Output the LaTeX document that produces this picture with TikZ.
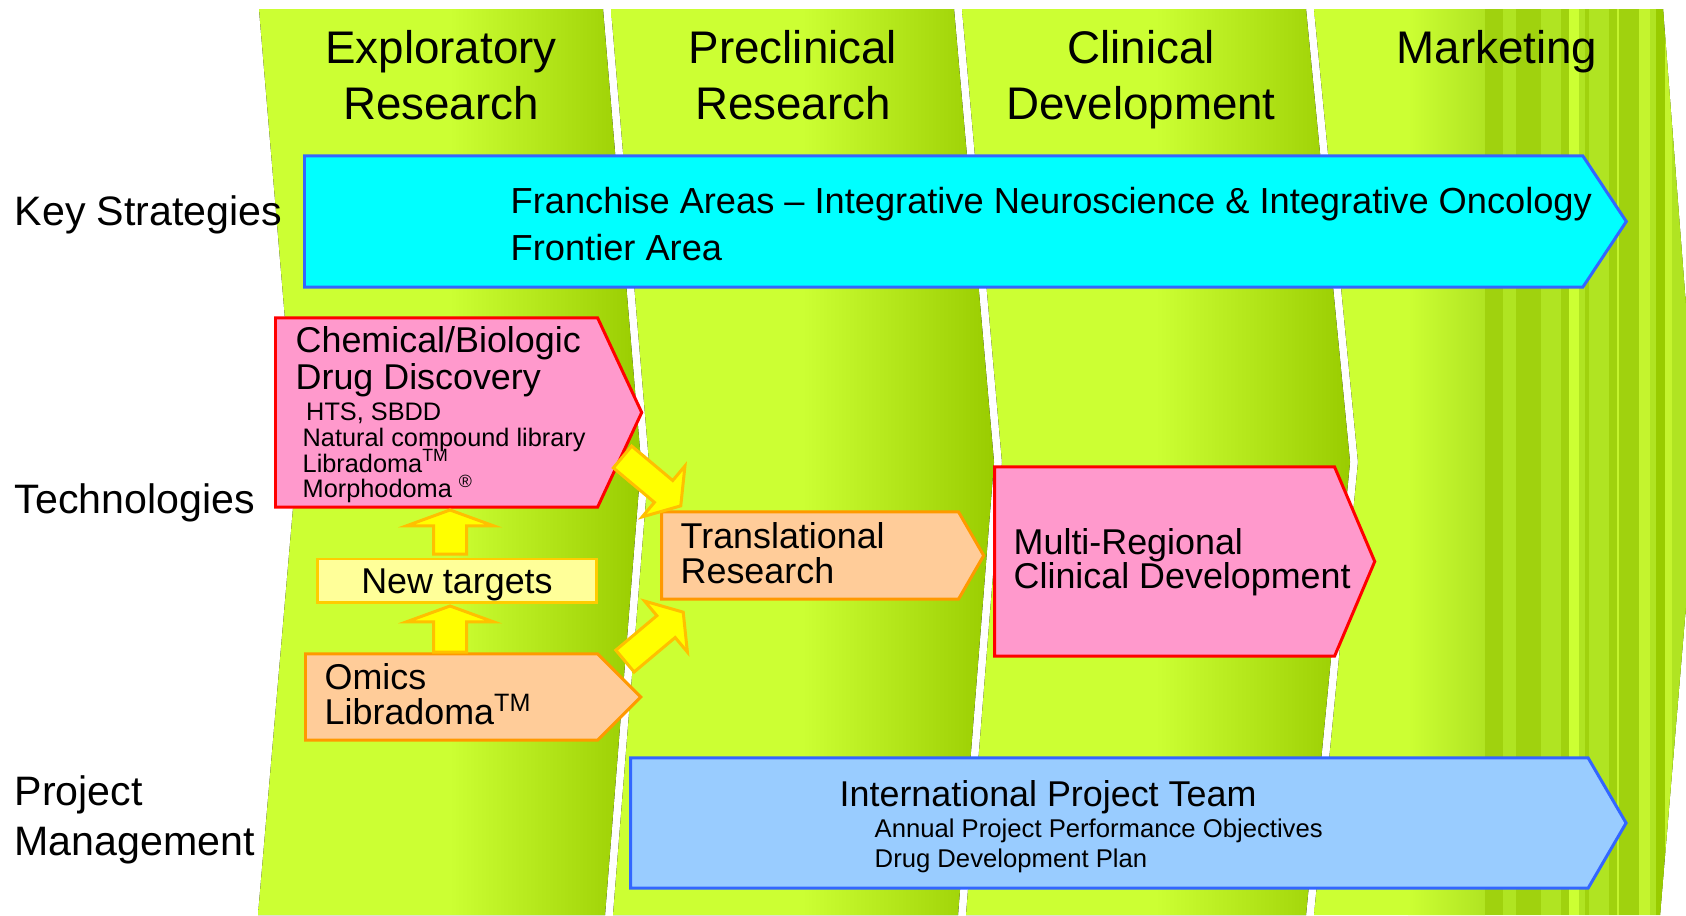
\documentclass[tikz,border=0pt]{standalone}
\usepackage{fontspec}
\setmainfont{Liberation Sans}
\usepackage{tikz}
\usetikzlibrary{shapes,arrows,positioning,calc,shapes.symbols,shapes.arrows}

\definecolor{bandlite}{RGB}{204,255,51}
\definecolor{banddark}{RGB}{153,204,0}
\definecolor{stripedark}{RGB}{160,210,14}
\definecolor{stripemid}{RGB}{176,228,34}
\definecolor{stripelite}{RGB}{196,244,46}
\definecolor{stratfill}{RGB}{0,255,255}
\definecolor{stratline}{RGB}{51,102,255}
\definecolor{techpink}{RGB}{255,153,204}
\definecolor{techred}{RGB}{255,0,0}
\definecolor{techpeach}{RGB}{255,204,153}
\definecolor{techorange}{RGB}{255,153,0}
\definecolor{targetfill}{RGB}{255,255,153}
\definecolor{targetline}{RGB}{255,204,0}
\definecolor{flowfill}{RGB}{255,255,0}
\definecolor{flowline}{RGB}{255,192,0}
\definecolor{teamfill}{RGB}{153,204,255}

\pgfdeclarehorizontalshading{bandshade}{100bp}{color(0bp)=(bandlite); color(50bp)=(bandlite); color(75bp)=(banddark); color(100bp)=(banddark)}

\begin{document}
\begin{tikzpicture}[x=0.01cm, y=-0.01cm,
    band/.style={shading=bandshade},
    phasetitle/.style={font=\fontsize{13}{15.9}\selectfont, align=center, anchor=north, inner sep=0pt},
    rowlabel/.style={font=\fontsize{11.7}{14.2}\selectfont, align=left, anchor=north west, inner sep=0pt},
    tagbox/.style={signal, signal to=east, signal from=nowhere, line width=0.85pt, inner sep=0pt, anchor=west},
    boxtext/.style={font=\fontsize{10.2}{10}\selectfont, align=left, anchor=north west, inner sep=0pt},
    smalltext/.style={font=\fontsize{7.2}{7.3}\selectfont, align=left, anchor=north west, inner sep=0pt},
    flowarrow/.style={single arrow, fill=flowfill, draw=flowline, line width=0.85pt, inner xsep=0pt, anchor=tail},
  ]
    \useasboundingbox (0,0) rectangle (1686,915);

    % Phase bands
    \fill[band] (259,9) -- (603,9) -- (641,462) -- (605,915) -- (258,915) -- (297,462) -- cycle;
    \fill[band] (611,9) -- (954,9) -- (994,462) -- (958,915) -- (613,915) -- (649,462) -- cycle;
    \fill[band] (962,9) -- (1306,9) -- (1350,462) -- (1306,915) -- (966,915) -- (1002,462) -- cycle;
    \begin{scope}
        \clip (1314,9) -- (1663,9) -- (1698,462) -- (1660,915) -- (1314,915) -- (1358,462) -- cycle;
        \fill[band] (1314,9) rectangle (1698,915);
        \fill[left color=bandlite, right color=stripemid] (1408,9) rectangle (1485,915);
        \foreach \a/\b/\c in {1485/1503/stripedark, 1503/1516/stripemid, 1516/1541/stripedark,
                1541/1561/stripemid, 1561/1569/stripedark, 1569/1579/bandlite, 1579/1585/stripemid,
                1585/1589/stripedark, 1589/1609/stripemid, 1609/1617/stripedark, 1617/1619/stripelite,
                1619/1639/stripedark, 1639/1650/stripelite, 1650/1656/stripemid, 1656/1665/banddark,
                1665/1672/stripelite, 1672/1700/stripemid}
            \fill[\c] (\a,9) rectangle (\b,915);
    \end{scope}

    % Phase titles
    \node[phasetitle] (pexp) at (441,30) {Exploratory\\Research};
    \node[phasetitle] (ppre) at (793,30) {Preclinical\\Research};
    \node[phasetitle] (pcli) at (1141,30) {Clinical\\Development};
    \node[phasetitle] (pmkt) at (1497,30) {Marketing};

    % Row labels
    \node[rowlabel] (rstrat) at (14,195) {Key Strategies};
    \node[rowlabel] (rtech) at (14,483) {Technologies};
    \node[rowlabel] (rproj) at (14,775) {Project\\Management};

    % Key strategies
    \node[tagbox, fill=stratfill, draw=stratline, minimum width=13.21cm, minimum height=1.31cm,
        signal pointer angle=113] (strat) at (303,221.5) {};
    \node[boxtext, font=\fontsize{10.3}{13.3}\selectfont] (strattxt) at (510,187)
        {Franchise Areas – Integrative Neuroscience \& Integrative Oncology\\Frontier Area};

    % Technologies
    \node[tagbox, fill=techpink, draw=techred, minimum width=3.66cm, minimum height=1.89cm,
        signal pointer angle=130] (chem) at (274,412.5) {};
    \node[boxtext, font=\fontsize{10.2}{9.4}\selectfont] (chemtxt) at (295,326) {Chemical/Biologic\\Drug Discovery};
    \node[smalltext] (chemlist) at (302,402.5)
        {\hspace*{1pt}HTS, SBDD\\Natural compound library\\Libradoma\smash{\textsuperscript{TM}}\\Morphodoma \smash{\textsuperscript{®}}};

    \node[draw=targetline, fill=targetfill, line width=0.85pt, minimum width=2.78cm, minimum height=0.43cm,
        font=\fontsize{10.2}{10}\selectfont, text height=7.3pt, text depth=0pt, inner sep=0pt] (targets) at (457,580.5) {New targets};

    \node[tagbox, fill=techpeach, draw=techorange, minimum width=3.35cm, minimum height=0.86cm,
        signal pointer angle=90] (omics) at (304,697) {};
    \node[boxtext] (omicstxt) at (324,662.5) {Omics\\Libradoma\smash{\textsuperscript{TM}}};

    \node[tagbox, fill=techpeach, draw=techorange, minimum width=3.22cm, minimum height=0.87cm,
        signal pointer angle=120] (trans) at (660,555.5) {};
    \node[boxtext] (transtxt) at (680,522) {Translational\\Research};

    \node[tagbox, fill=techpink, draw=techred, minimum width=3.80cm, minimum height=1.89cm,
        signal pointer angle=134] (mrcd) at (993,561.5) {};
    \node[boxtext, font=\fontsize{10.2}{9.7}\selectfont] (mrcdtxt) at (1013,528) {Multi-Regional\\Clinical Development};

    % Block arrows between the technology boxes
    \node[flowarrow, rotate=90, minimum height=0.46cm, inner ysep=0.15cm,
        single arrow head extend=0.27cm, single arrow tip angle=140] (upomics) at ($(targets.south)+(-7,50)$) {};
    \node[flowarrow, rotate=90, minimum height=0.44cm, inner ysep=0.15cm,
        single arrow head extend=0.27cm, single arrow tip angle=140] (uptargets) at ($(targets.north)+(-7,-2)$) {};
    \node[flowarrow, rotate=-40, minimum height=0.76cm, inner ysep=0.1275cm,
        single arrow head extend=0.19cm, single arrow tip angle=112] (chemtrans) at ($(chem.east)+(-22,43.5)$) {};
    \node[flowarrow, rotate=40, minimum height=0.76cm, inner ysep=0.1275cm,
        single arrow head extend=0.19cm, single arrow tip angle=112] (omicstrans) at ($(omics.east)+(-19,-35)$) {};

    % Project management
    \node[tagbox, fill=teamfill, draw=stratline, minimum width=9.95cm, minimum height=1.30cm,
        signal pointer angle=119.5] (team) at (629,823) {};
    \node[boxtext] (teamtxt) at (839,780) {International Project Team};
    \node[smalltext, font=\fontsize{7.3}{8.5}\selectfont] (teamlist) at (874,818.5)
        {Annual Project Performance Objectives\\Drug Development Plan};
\end{tikzpicture}
\end{document}
